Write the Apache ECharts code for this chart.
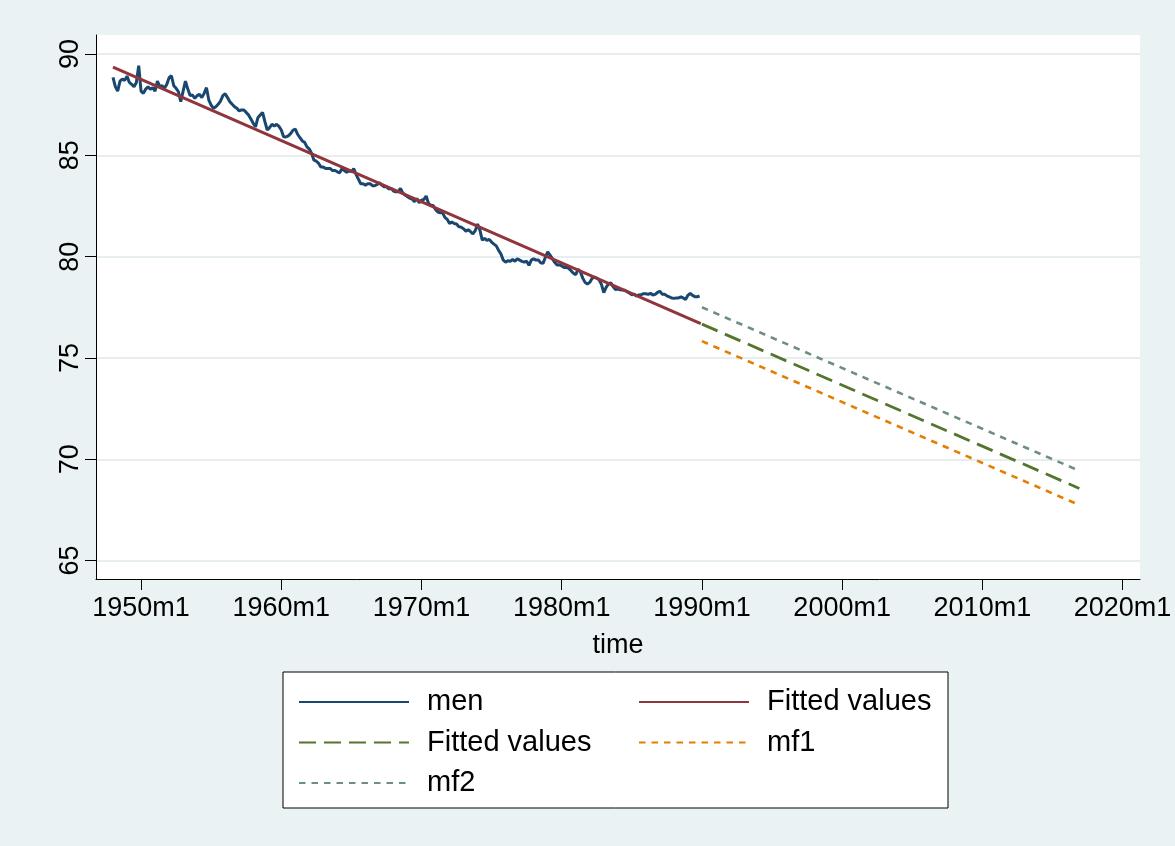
<!DOCTYPE html>
<html>
<head>
<meta charset="utf-8">
<script src="https://cdn.jsdelivr.net/npm/echarts@6/dist/echarts.min.js"></script>
<style>
  html, body { margin: 0; padding: 0; background: #ffffff; }
  #chart { width: 1175px; height: 846px; }
</style>
</head>
<body>
<div id="chart"></div>
<script>
// Monthly tick labels on the time axis (Stata %tm style)
const xTickLabels = ['1950m1', '1960m1', '1970m1', '1980m1', '1990m1', '2000m1', '2010m1', '2020m1'];
const yTickValues = [65, 70, 75, 80, 85, 90];

// men: observed series, every second month from 1948m1
const menStart = '1948m1';
const menStepMonths = 2;
const menValues = [
  88.85, 88.39, 88.17, 88.66, 88.77, 88.70, 88.91, 88.60, 88.50, 88.39, 88.60, 89.43,
  88.17, 88.06, 88.27, 88.39, 88.26, 88.34, 88.17, 88.66, 88.39, 88.44, 88.31, 88.50,
  88.83, 88.93, 88.44, 88.31, 88.14, 87.65, 88.17, 88.66, 88.27, 87.95, 87.98, 87.81,
  87.95, 88.01, 87.85, 88.06, 88.34, 87.73, 87.48, 87.32, 87.40, 87.52, 87.68, 87.95,
  88.04, 87.85, 87.65, 87.52, 87.40, 87.32, 87.19, 87.24, 87.24, 87.12, 86.99, 86.79,
  86.58, 86.41, 86.86, 86.99, 87.12, 86.66, 86.25, 86.37, 86.53, 86.45, 86.53, 86.43,
  86.25, 85.92, 85.91, 85.96, 86.07, 86.24, 86.30, 86.04, 85.87, 85.71, 85.64, 85.42,
  85.31, 85.09, 84.76, 84.71, 84.60, 84.42, 84.42, 84.35, 84.35, 84.35, 84.25, 84.25,
  84.19, 84.14, 84.35, 84.25, 84.16, 84.25, 84.19, 84.35, 84.06, 83.83, 83.60, 83.60,
  83.53, 83.60, 83.60, 83.50, 83.50, 83.56, 83.65, 83.53, 83.45, 83.45, 83.34, 83.37,
  83.24, 83.20, 83.20, 83.37, 83.15, 83.04, 82.96, 82.89, 82.84, 82.71, 82.87, 82.66,
  82.79, 82.82, 82.99, 82.63, 82.54, 82.53, 82.33, 82.20, 82.17, 82.17, 81.94, 81.84,
  81.64, 81.71, 81.64, 81.61, 81.48, 81.45, 81.38, 81.26, 81.33, 81.23, 81.12, 81.28,
  81.61, 81.31, 80.82, 80.90, 80.80, 80.85, 80.72, 80.62, 80.53, 80.31, 80.13, 79.83,
  79.73, 79.80, 79.77, 79.86, 79.77, 79.90, 79.83, 79.77, 79.73, 79.78, 79.57, 79.83,
  79.90, 79.83, 79.83, 79.70, 79.67, 79.96, 80.24, 80.08, 79.90, 79.72, 79.59, 79.60,
  79.54, 79.47, 79.47, 79.42, 79.31, 79.18, 79.11, 79.37, 79.26, 78.94, 78.73, 78.65,
  78.73, 78.93, 78.99, 78.94, 78.86, 78.63, 78.22, 78.48, 78.65, 78.71, 78.52, 78.38,
  78.40, 78.37, 78.35, 78.34, 78.27, 78.20, 78.12, 78.14, 78.06, 78.11, 78.12, 78.17,
  78.17, 78.14, 78.19, 78.11, 78.14, 78.24, 78.29, 78.15, 78.14, 78.07, 78.02, 77.96,
  77.94, 77.96, 77.96, 78.01, 77.96, 77.89, 78.09, 78.19, 78.09, 78.02, 78.02, 78.06
];

// Linear trend over the sample, and its projections
const fitLine     = [['1948m1', 89.35], ['1989m12', 76.70]];
const fitForecast = [['1990m1', 76.67], ['2016m12', 68.56]];
const mf1Line     = [['1990m1', 75.83], ['2016m12', 67.74]];
const mf2Line     = [['1990m1', 77.50], ['2016m12', 69.43]];

// Legend text for each series (two series share the label "Fitted values")
const legendText = {
  men: 'men', fit: 'Fitted values', fitf: 'Fitted values', mf1: 'mf1', mf2: 'mf2'
};

// Stata monthly date helpers: months since 1960m1
function tm(s) {
  const parts = s.split('m');
  return (Number(parts[0]) - 1960) * 12 + (Number(parts[1]) - 1);
}
function tmLabel(v) {
  const y = 1960 + Math.floor(v / 12);
  const m = ((v % 12) + 12) % 12 + 1;
  return y + 'm' + m;
}

const menStartTm = tm(menStart);
const menData = menValues.map((v, i) => [menStartTm + i * menStepMonths, v]);
const toPts = arr => arr.map(p => [tm(p[0]), p[1]]);
const xTicks = xTickLabels.map(tm);

const FONT = '"Liberation Sans", Arial, Helvetica, sans-serif';
const BG = '#EAF2F3';

function lineSeries(name, data, color, width, type, z) {
  return {
    name: name,
    type: 'line',
    data: data,
    symbol: 'none',
    showSymbol: false,
    silent: true,
    animation: false,
    z: z,
    lineStyle: { color: color, width: width, type: type, cap: 'butt' },
    itemStyle: { color: color }
  };
}

// Two legend columns inside one framed box
const legendCommon = {
  orient: 'vertical',
  top: 687,
  padding: 0,
  itemWidth: 110,
  itemHeight: 2,
  itemGap: 10.5,
  selectedMode: false,
  itemStyle: { opacity: 0 },
  formatter: name => legendText[name],
  textStyle: {
    fontFamily: FONT, fontSize: 29, color: '#000', lineHeight: 30,
    padding: [0, 0, 0, 13]
  }
};

const chart = echarts.init(document.getElementById('chart'), null, { renderer: 'canvas' });
chart.setOption({
  backgroundColor: BG,
  animation: false,
  grid: {
    left: 96, right: 35, top: 35, bottom: 267,
    show: true, backgroundColor: '#ffffff', borderWidth: 0
  },
  graphic: [
    {
      type: 'rect',
      z: 1,
      shape: { x: 283, y: 672, width: 665, height: 136 },
      style: { fill: '#ffffff', stroke: '#000000', lineWidth: 1 }
    }
  ],
  legend: [
    Object.assign({ left: 298, data: ['men', 'fitf', 'mf2'] }, legendCommon),
    Object.assign({ left: 638, data: ['fit', 'mf1'] }, legendCommon)
  ],
  xAxis: {
    type: 'value',
    min: tm('1946m10') + 0.45,
    max: tm('2021m4') - 0.1,
    name: 'time',
    nameLocation: 'middle',
    nameGap: 53,
    nameTextStyle: { fontFamily: FONT, fontSize: 27, color: '#000' },
    axisLine: { onZero: false, lineStyle: { color: '#000', width: 1 } },
    axisTick: { customValues: xTicks, length: 11, lineStyle: { color: '#000', width: 1 } },
    axisLabel: {
      customValues: xTicks,
      formatter: v => tmLabel(Math.round(v)),
      fontFamily: FONT, fontSize: 27, color: '#000', margin: 16
    },
    splitLine: { show: false }
  },
  yAxis: {
    type: 'value',
    min: 64.09,
    max: 90.94,
    axisLine: { show: true, onZero: false, lineStyle: { color: '#000', width: 1 } },
    axisTick: { show: true, customValues: yTickValues, length: 11, lineStyle: { color: '#000', width: 1 } },
    axisLabel: {
      customValues: yTickValues,
      rotate: 90,
      fontFamily: FONT, fontSize: 27, color: '#000', margin: 12
    },
    splitLine: { show: true, lineStyle: { color: '#E6EEF0', width: 2 } }
  },
  series: [
    lineSeries('men', menData, '#1A476F', 3, 'solid', 2),
    lineSeries('fit', toPts(fitLine), '#90353B', 3, 'solid', 3),
    lineSeries('fitf', toPts(fitForecast), '#55752F', 2.8, [17, 8], 3),
    lineSeries('mf1', toPts(mf1Line), '#E37E00', 2.6, [6.5, 6], 3),
    lineSeries('mf2', toPts(mf2Line), '#6E8E84', 2.6, [6.5, 6], 3)
  ]
});
</script>
</body>
</html>
